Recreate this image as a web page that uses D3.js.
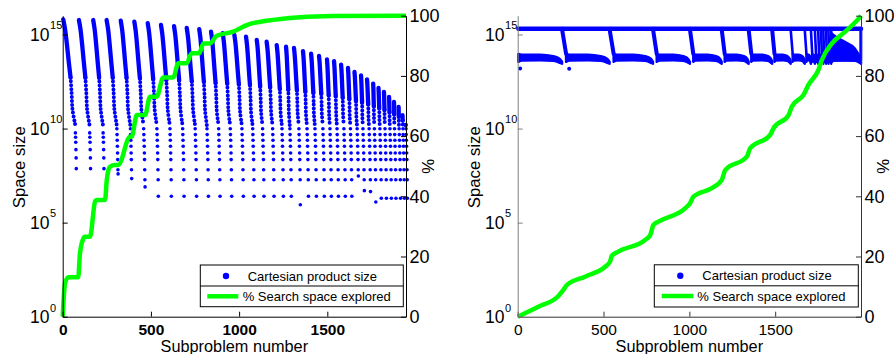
<!DOCTYPE html>
<html><head><meta charset="utf-8">
<script src="https://cdn.jsdelivr.net/npm/d3@7"></script>
<style>
body{margin:0;background:#fff}
text{font-family:"Liberation Sans",Arial,Helvetica,sans-serif;fill:#000}
</style>
</head><body>
<svg id="chart" width="894" height="354"></svg>
<script>
// ================= DATA =================
const xTicks = [0, 500, 1000, 1500];
const yExpTicks = [0, 5, 10, 15];          // 10^0 ... 10^15
const pctTicks = [0, 20, 40, 60, 80, 100];
const legendLabels = ["Cartesian product size", "% Search space explored"];
const xTitle = "Subproblem number";
const yTitle = "Space size";
const y2Title = "%";

// ---- Left panel: Cartesian product size (log10), one "arc" per family of subproblems
const leftXMax = 1946;
const leftArcStart = [3, 92, 173, 249, 329, 406, 482, 557, 631, 703, 774, 841, 907, 973, 1039, 1100, 1156, 1213, 1266,
  1311, 1362, 1408, 1453, 1498, 1538, 1578, 1617, 1654, 1691, 1725, 1760, 1790, 1821, 1850, 1878, 1904, 1926, 1943];
const leftArcTopExp = [15.80, 15.77, 15.77, 15.77, 15.74, 15.68, 15.60, 15.51, 15.45, 15.35, 15.28, 15.15, 15.07, 14.98,
  14.89, 14.71, 14.62, 14.44, 14.35, 14.29, 14.11, 13.98, 13.86, 13.68, 13.58, 13.40, 13.22, 13.01, 12.83, 12.62, 12.39,
  12.16, 11.95, 11.68, 11.42, 11.15, 10.72, 10.19];
const leftArcTailLowExp = [7.87, 7.87, 7.87, 7.59, 7.34, 6.90, 6.40, 6.40, 6.40, 6.40, 6.40, 6.40, 6.40, 6.40, 6.40, 6.40,
  6.40, 6.40, 6.40, 5.95, 6.40, 6.40, 6.40, 6.40, 6.40, 6.40, 6.40, 7.48, 6.70, 6.65, 6.10, 6.30, 6.30, 6.30, 6.30, 6.30,
  6.30, 6.30];
const leftTailLevelsExp = [9.99, 9.68, 9.38, 9.06, 8.70, 8.35, 7.81, 7.28];
const leftEarlyTailLevelsExp = [9.77, 9.54, 9.27, 8.88, 8.44];
const leftDenseEndExp = 10.19;
// shape of one arc, read from the first arc (fraction of index span / fraction of log drop)
const arcProfileT = [0, 0.15, 0.31, 0.46, 0.61, 0.70, 0.77, 0.95, 1];
const arcProfileH = [0, 0.09, 0.24, 0.40, 0.55, 0.70, 0.85, 0.97, 1];

// ---- Left panel: % search space explored
const leftPctX = [0, 5, 13, 32, 88, 98, 117, 124, 155, 183, 192, 240, 250, 259, 268, 296, 315, 382, 391, 420, 467, 495,
  533, 570, 627, 655, 703, 731, 774, 797, 835, 873, 967, 1043, 1156, 1345, 1532, 1946];
const leftPctY = [0, 5.5, 11.1, 13.1, 13.1, 21.1, 26.0, 26.6, 26.6, 38.2, 38.8, 38.8, 45.5, 48.7, 49.8, 50.4, 50.4, 59.8,
  59.8, 67.0, 67.0, 73.1, 73.1, 79.5, 79.5, 84.2, 84.2, 87.5, 87.5, 90.8, 90.8, 93.3, 94.7, 96.9, 98.3, 99.5, 99.9, 100];

// ---- Right panel: Cartesian product size (log10)
const rightXMax = 2000;
const rightUpperExp = 15.30;
const rightSegStart = [4, 258, 535, 788, 1003, 1188, 1345, 1482, 1590, 1672, 1708, 1731, 1750, 1766, 1780, 1796, 1810, 1826];
const rightDropLen = [0, 24, 24, 22, 20, 18, 16, 14, 12, 10, 8, 7, 6, 6, 5, 5, 5, 5];
const bandProfileT = [0, 0.08, 0.5, 0.8, 0.95, 1];
const bandTopExp = [13.97, 13.93, 13.93, 13.85, 13.70, 13.55];
const bandBottomExp = [13.55, 13.62, 13.63, 13.60, 13.50, 13.45];
const rightBlobX = [1826, 1838, 1906, 1965, 1994, 2000];
const rightBlobTopExp = [15.10, 15.00, 14.62, 14.27, 13.82, 13.70];
const rightBlobBottomExp = 13.60;
const rightStrayX = [14, 300];
const rightStrayExp = [13.20, 13.18];

// ---- Right panel: % search space explored
const rightPctX = [0, 120, 237, 266, 286, 392, 509, 538, 548, 586, 742, 772, 791, 820, 975, 1004, 1024, 1131, 1189, 1209,
  1335, 1354, 1471, 1490, 1578, 1597, 1665, 1694, 1752, 1772, 1831, 1908, 1996, 2000];
const rightPctY = [0, 3.3, 6.9, 8.9, 10.5, 13.3, 16.6, 18.3, 20.2, 21.6, 25.5, 27.1, 30.5, 31.6, 36.0, 37.7, 39.9, 42.7,
  45.4, 48.7, 53.2, 55.9, 60.4, 62.6, 67.0, 69.8, 73.7, 77.0, 82.0, 85.3, 90.8, 94.7, 99.7, 100];

// ================= DRAWING =================
const BLUE = "#0000ff", GREEN = "#00ff00";
const svg = d3.select("#chart");
const TOP = 15.7, BOT = 316.7;

function makePanel(L, R, xMax) {
  const g = svg.append("g");
  const x = d3.scaleLinear().domain([0, xMax]).range([L, R]);
  const y = d3.scaleLog().domain([1, 1e16]).range([BOT, TOP]);
  const yp = d3.scaleLinear().domain([0, 100]).range([BOT, TOP]);
  const Y = e => y(Math.pow(10, e));
  return {g, x, y, yp, Y, L, R};
}

function drawAxes(P, axisColorLeft, axisColor, boldX) {
  const {g, x, y, yp, L, R} = P;
  const ax = g.append("g").attr("transform", `translate(0,${BOT})`)
    .call(d3.axisBottom(x).tickValues(xTicks).tickSizeInner(-5).tickSizeOuter(0).tickPadding(7.5).tickFormat(d3.format("d")));
  ax.select(".domain").attr("stroke", axisColor);
  ax.selectAll(".tick line").attr("stroke", axisColor);
  ax.selectAll("text").attr("font-size", 15.5).attr("font-weight", boldX ? "bold" : "normal").attr("fill", "#000");
  ax.attr("font-family", null);
  const ay = g.append("g").attr("transform", `translate(${L},0)`)
    .call(d3.axisLeft(y).tickValues(yExpTicks.map(e => Math.pow(10, e))).tickSizeInner(-5).tickSizeOuter(0).tickFormat(() => ""));
  ay.select(".domain").attr("stroke", axisColorLeft);
  ay.selectAll(".tick line").attr("stroke", axisColorLeft);
  yExpTicks.forEach(e => {
    const ty = y(Math.pow(10, e));
    g.append("text").attr("x", L - 13.2).attr("y", ty + 6.3).attr("text-anchor", "end")
      .attr("font-size", 17.5).text("10");
    g.append("text").attr("x", L - 12.6).attr("y", ty - 5.2).attr("text-anchor", "start")
      .attr("font-size", 11).text(String(e));
  });
  const ar = g.append("g").attr("transform", `translate(${R},0)`)
    .call(d3.axisRight(yp).tickValues(pctTicks).tickSizeInner(-5).tickSizeOuter(0).tickPadding(3.5));
  ar.select(".domain").attr("stroke", axisColor);
  ar.selectAll(".tick line").attr("stroke", axisColor);
  ar.selectAll("text").attr("font-size", 18).attr("fill", "#000");
  ar.attr("font-family", null);
  g.append("text").attr("x", (L + R) / 2).attr("y", 351.8).attr("text-anchor", "middle")
    .attr("font-size", 16.3).text(xTitle);
  g.append("text").attr("transform", `translate(${L - 38},${(TOP + BOT) / 2 + 1}) rotate(-90)`)
    .attr("text-anchor", "middle").attr("font-size", 16.8).text(yTitle);
  g.append("text").attr("transform", `translate(${R + 27.5},${(TOP + BOT) / 2}) rotate(-90)`)
    .attr("text-anchor", "middle").attr("font-size", 16.8).text(y2Title);
}

function drawPct(P, xs, ys) {
  const line = d3.line().x(d => P.x(d[0])).y(d => P.yp(d[1])).curve(d3.curveMonotoneX);
  P.g.append("path").attr("d", line(xs.map((v, i) => [v, ys[i]])))
    .attr("fill", "none").attr("stroke", GREEN).attr("stroke-width", 4.5)
    .attr("stroke-linejoin", "round").attr("stroke-linecap", "butt");
}

function drawLegend(P, bx, by, bw, bh, dotX, textX1, lineX0, lineX1, textX2) {
  const g = P.g.append("g");
  g.append("rect").attr("x", bx).attr("y", by).attr("width", bw).attr("height", bh)
    .attr("fill", "#fff").attr("stroke", "#000").attr("stroke-width", 1);
  g.append("line").attr("x1", bx).attr("x2", bx + bw).attr("y1", by + 21).attr("y2", by + 21)
    .attr("stroke", "#000").attr("stroke-width", 1);
  g.append("circle").attr("cx", dotX).attr("cy", by + 11).attr("r", 3.2).attr("fill", BLUE);
  g.append("text").attr("x", textX1).attr("y", by + 15.5).attr("font-size", 13).text(legendLabels[0]);
  g.append("line").attr("x1", lineX0).attr("x2", lineX1).attr("y1", by + 31.3).attr("y2", by + 31.3)
    .attr("stroke", GREEN).attr("stroke-width", 4.5);
  g.append("text").attr("x", textX2).attr("y", by + 35.8).attr("font-size", 13).text(legendLabels[1]);
}

// ---------- LEFT PANEL ----------
const PL = makePanel(62.7, 406, leftXMax);
{
  const {g, x, Y} = PL;
  const blue = g.append("g");
  const line = d3.line().x(d => x(d[0])).y(d => Y(d[1])).curve(d3.curveCatmullRom);
  const SPLIT = 4; // profile point where the dots begin to separate
  leftArcStart.forEach((s, i) => {
    const next = i < leftArcStart.length - 1 ? leftArcStart[i + 1] : leftXMax + 15;
    const low = leftArcTailLowExp[i];
    const lv = (i < 3 ? leftEarlyTailLevelsExp : leftTailLevelsExp).filter(v => v > low + 0.05).concat([low]);
    const col = Math.max(next - 15 - lv.length, s + 2);
    const top = leftArcTopExp[i];
    const dEnd = Math.min(leftDenseEndExp, top);
    const pts = arcProfileT.map((t, k) => [s + t * (col - s), top - arcProfileH[k] * (top - dEnd)]);
    blue.append("path").attr("d", line(pts.slice(0, SPLIT + 1))).attr("fill", "none").attr("stroke", BLUE)
      .attr("stroke-width", 4.3).attr("stroke-linecap", "round");
    blue.append("path").attr("d", line(pts.slice(SPLIT))).attr("fill", "none").attr("stroke", BLUE)
      .attr("stroke-width", 4.0).attr("stroke-linecap", "round").attr("stroke-dasharray", "0 3.9");
    blue.selectAll(null).data(lv).join("circle")
      .attr("cx", (d, k) => x(col + 1 + k)).attr("cy", d => Y(d)).attr("r", 1.8).attr("fill", BLUE);
  });
}
drawPct(PL, leftPctX, leftPctY);
drawAxes(PL, "#000", "#000", true);
drawLegend(PL, 200.3, 265, 203, 41.7, 226, 247.7, 207.3, 238.3, 242.7);

// ---------- RIGHT PANEL ----------
const PR = makePanel(517.7, 861, rightXMax);
{
  const {g, x, Y} = PR;
  const blue = g.append("g");
  blue.append("line").attr("x1", x(4)).attr("x2", x(rightXMax)).attr("y1", Y(rightUpperExp)).attr("y2", Y(rightUpperExp))
    .attr("stroke", BLUE).attr("stroke-width", 4.5).attr("stroke-linecap", "round");
  const area = d3.area().x(d => x(d[0])).y0(d => Y(d[2])).y1(d => Y(d[1])).curve(d3.curveMonotoneX);
  rightSegStart.forEach((s, i) => {
    const next = i < rightSegStart.length - 1 ? rightSegStart[i + 1] : rightXMax;
    const d0 = s + rightDropLen[i];
    if (rightDropLen[i] > 0) {
      blue.append("line").attr("x1", x(s)).attr("y1", Y(rightUpperExp)).attr("x2", x(d0)).attr("y2", Y(bandTopExp[0]))
        .attr("stroke", BLUE).attr("stroke-width", rightDropLen[i] > 12 ? 4 : 2.6).attr("stroke-linecap", "round");
    }
    const pts = bandProfileT.map((t, k) => [d0 + t * (next - d0), bandTopExp[k], bandBottomExp[k]]);
    blue.append("path").attr("d", area(pts)).attr("fill", BLUE).attr("stroke", BLUE)
      .attr("stroke-width", 2.5).attr("stroke-linejoin", "round");
  });
  const blobPts = rightBlobX.map((v, i) => [v, rightBlobTopExp[i], rightBlobBottomExp]);
  blue.append("path").attr("d", area(blobPts)).attr("fill", BLUE).attr("stroke", BLUE).attr("stroke-width", 2);
  blue.append("line").attr("x1", x(rightXMax - 1)).attr("x2", x(rightXMax - 1))
    .attr("y1", Y(rightUpperExp)).attr("y2", Y(rightBlobBottomExp))
    .attr("stroke", BLUE).attr("stroke-width", 3);
  blue.selectAll(null).data(rightStrayX).join("circle")
    .attr("cx", d => x(d)).attr("cy", (d, i) => Y(rightStrayExp[i])).attr("r", 2).attr("fill", BLUE);
}
drawPct(PR, rightPctX, rightPctY);
drawAxes(PR, "#808080", "#333", false);
drawLegend(PR, 654.3, 264.8, 204, 42.2, 680.3, 702.3, 661.7, 693.3, 697.3);
</script>
</body></html>
